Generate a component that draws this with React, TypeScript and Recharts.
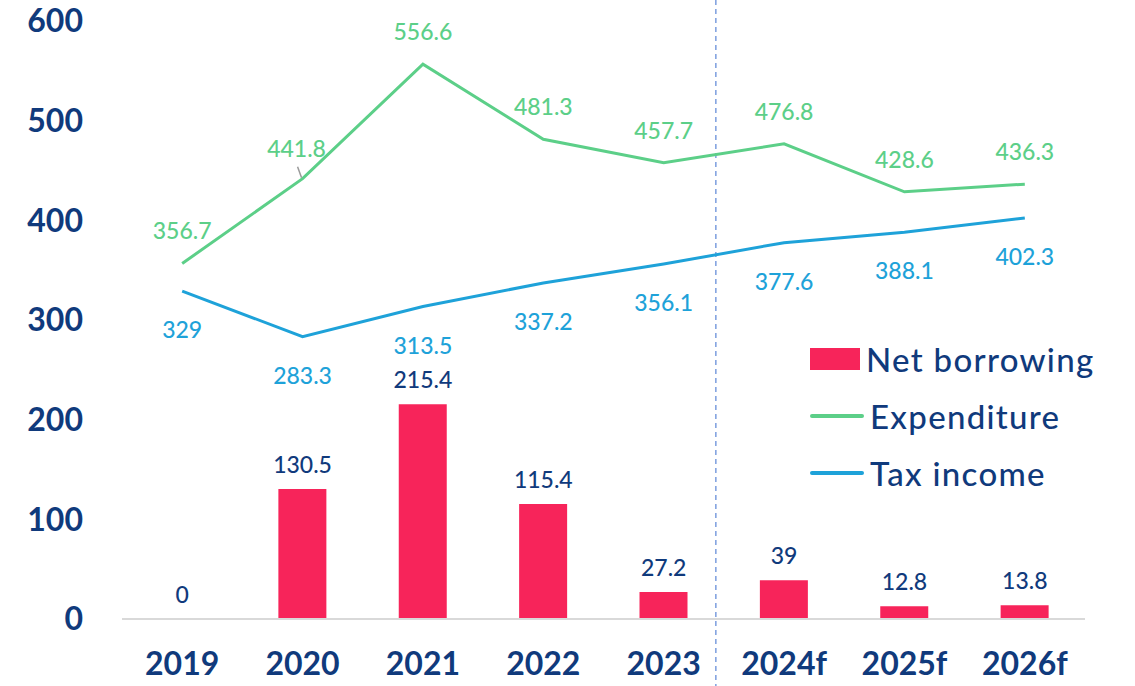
import React from "react";
import {
  ComposedChart,
  Bar,
  Line,
  XAxis,
  YAxis,
  Legend,
  LabelList,
  ReferenceLine,
} from "recharts";

const YEARS = ["2019", "2020", "2021", "2022", "2023", "2024f", "2025f", "2026f"];
const NET_BORROWING = [0, 130.5, 215.4, 115.4, 27.2, 39, 12.8, 13.8];
const EXPENDITURE = [356.7, 441.8, 556.6, 481.3, 457.7, 476.8, 428.6, 436.3];
const TAX_INCOME = [329, 283.3, 313.5, 337.2, 356.1, 377.6, 388.1, 402.3];
const Y_TICKS = [0, 100, 200, 300, 400, 500, 600];
const SERIES_ORDER = ["Net borrowing", "Expenditure", "Tax income"];

const NAVY = "#103a7c";
const RED = "#f7245a";
const GREEN = "#5ccf88";
const BLUE = "#1ea2d9";
const FONT = "Lato, 'Open Sans', sans-serif";

const data = YEARS.map((year, i) => ({
  year,
  borrowing: NET_BORROWING[i],
  expenditure: EXPENDITURE[i],
  tax: TAX_INCOME[i],
}));

const ExpLabel = (props: any) => {
  const { x, y, value, index } = props;
  if (index === 1) {
    // this one sits a bit left with a small leader line
    return (
      <g>
        <line x1={x - 5} y1={y - 12} x2={x - 1} y2={y - 1} stroke="#9a9a9a" strokeWidth={1.5} />
        <text x={x - 6} y={y - 31} textAnchor="middle" dominantBaseline="central" fill={GREEN} fontSize={23} fontWeight={500} fontFamily={FONT}>
          {value}
        </text>
      </g>
    );
  }
  return (
    <text x={x} y={y - 33} textAnchor="middle" dominantBaseline="central" fill={GREEN} fontSize={23} fontWeight={500} fontFamily={FONT}>
      {value}
    </text>
  );
};

const TaxLabel = (props: any) => {
  const { x, y, value } = props;
  return (
    <text x={x} y={y + 38} textAnchor="middle" dominantBaseline="central" fill={BLUE} fontSize={23} fontWeight={500} fontFamily={FONT}>
      {value}
    </text>
  );
};

// labels for the bars hang off an invisible line so that the zero bar gets one too
const BarLabel = (props: any) => {
  const { x, y, value } = props;
  return (
    <text x={x} y={y - 25} textAnchor="middle" dominantBaseline="central" fill={NAVY} fontSize={23} fontWeight={500} fontFamily={FONT}>
      {value}
    </text>
  );
};

const LegendContent = (props: any) => {
  const items = (props.payload || [])
    .filter((item: any) => SERIES_ORDER.includes(item.value))
    .sort((a: any, b: any) => SERIES_ORDER.indexOf(a.value) - SERIES_ORDER.indexOf(b.value));
  return (
    <div style={{ fontFamily: FONT }}>
      {items.map((item: any) => (
        <div key={item.value} style={{ display: "flex", alignItems: "center", height: 57 }}>
          {item.type === "rect" ? (
            <div style={{ width: 50, height: 22, background: item.color }} />
          ) : (
            <div style={{ width: 54, height: 4, borderRadius: 2, background: item.color }} />
          )}
          <span style={{ marginLeft: 6, fontSize: 33, fontWeight: 500, letterSpacing: 1.3, color: NAVY }}>
            {item.value}
          </span>
        </div>
      ))}
    </div>
  );
};

const DashedDivider = (props: any) => {
  const x = props.x1 - 8;
  return <line x1={x} y1={0} x2={x} y2={686} stroke="#5b86d6" strokeWidth={1.2} strokeDasharray="5 4" />;
};

export default function App() {
  return (
    <div style={{ position: "absolute", left: 0, top: 0, background: "#fff" }}>
      <ComposedChart width={1135} height={686} data={data} margin={{ top: 21, right: 50, bottom: 0, left: 0 }}>
        <XAxis
          dataKey="year"
          height={67}
          tickLine={false}
          tickSize={0}
          tickMargin={33}
          axisLine={{ stroke: "#d9d9d9", strokeWidth: 2 }}
          tick={{ fill: NAVY, fontSize: 32, fontWeight: 700, fontFamily: FONT }}
        />
        <YAxis
          width={122}
          domain={[0, 600]}
          ticks={Y_TICKS}
          tickLine={false}
          tickSize={0}
          tickMargin={39}
          axisLine={false}
          tick={{ fill: NAVY, fontSize: 32, fontWeight: 700, fontFamily: FONT }}
        />
        <ReferenceLine x="2023" position="end" ifOverflow="visible" shape={DashedDivider} />
        <Bar dataKey="borrowing" name="Net borrowing" fill={RED} barSize={48} isAnimationActive={false} />
        <Line dataKey="expenditure" name="Expenditure" stroke={GREEN} strokeWidth={3} dot={false} type="linear" isAnimationActive={false}>
          <LabelList dataKey="expenditure" content={ExpLabel} />
        </Line>
        <Line dataKey="tax" name="Tax income" stroke={BLUE} strokeWidth={3} dot={false} type="linear" isAnimationActive={false}>
          <LabelList dataKey="tax" content={TaxLabel} />
        </Line>
        <Line dataKey="borrowing" stroke="none" dot={false} legendType="none" isAnimationActive={false}>
          <LabelList dataKey="borrowing" content={BarLabel} />
        </Line>
        <Legend
          layout="vertical"
          verticalAlign="middle"
          align="center"
          content={LegendContent}
          wrapperStyle={{ left: 810, top: 330, width: 320 }}
        />
      </ComposedChart>
    </div>
  );
}
